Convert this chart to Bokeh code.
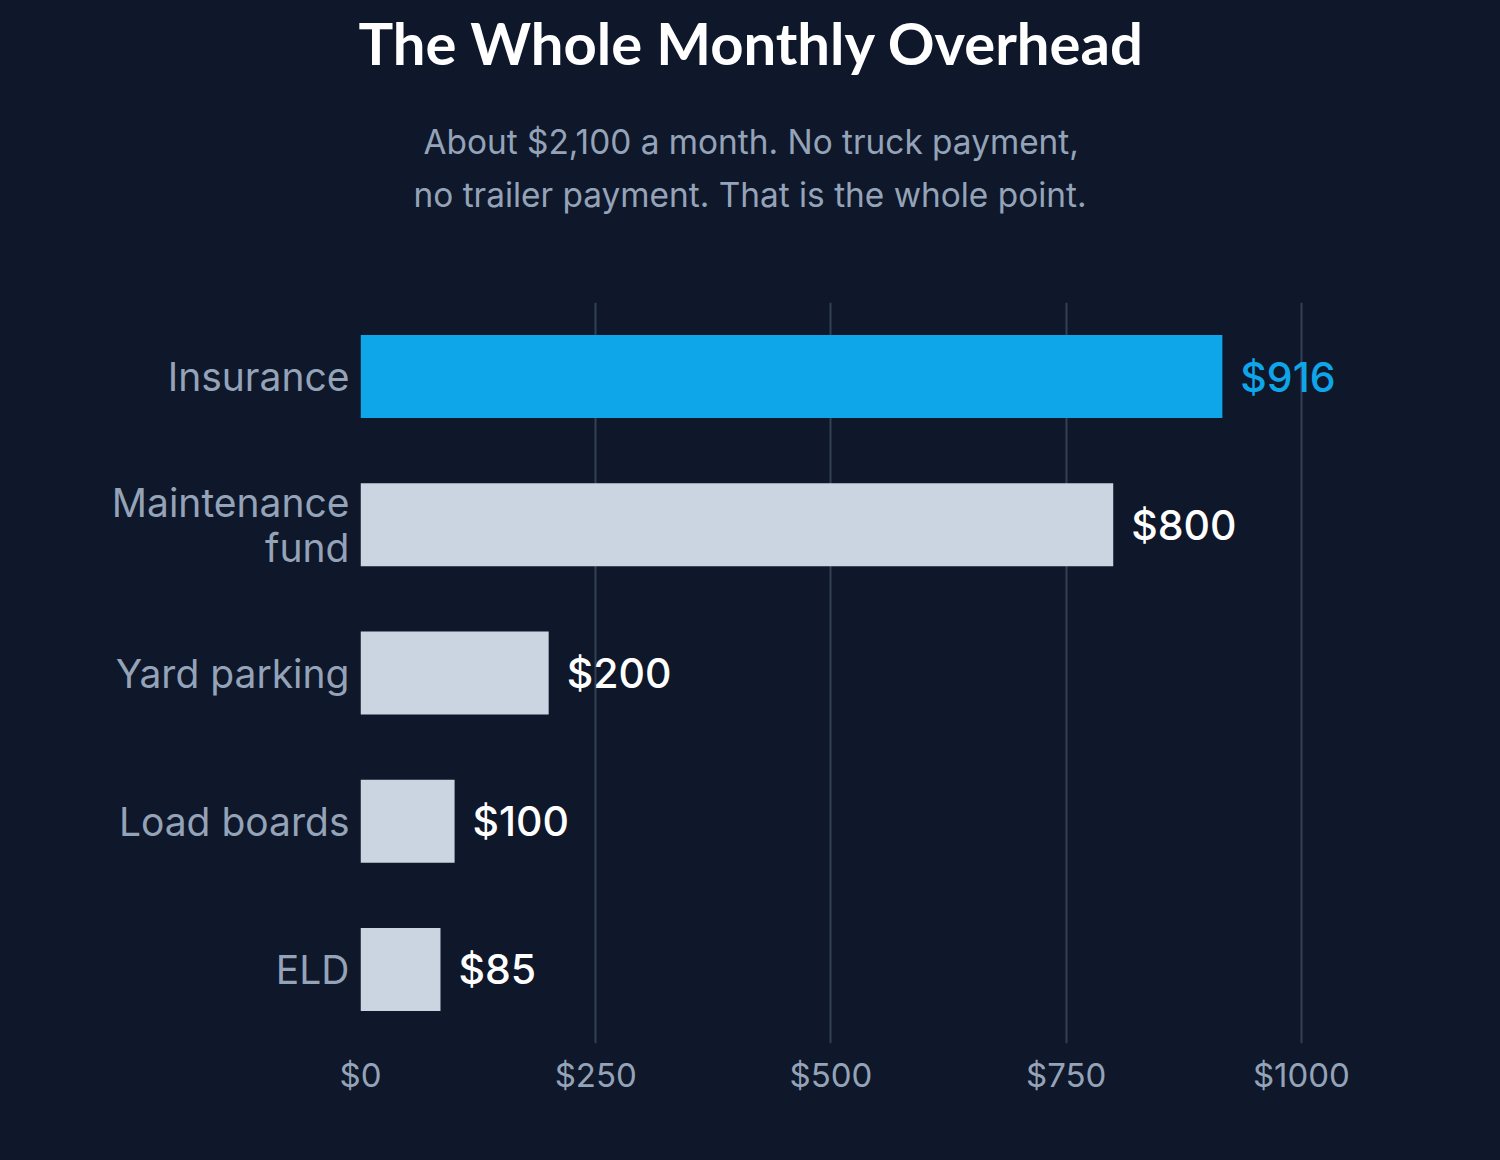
from bokeh.plotting import figure
from bokeh.models import ColumnDataSource, FactorRange, Range1d, FixedTicker, Title
from bokeh.core.properties import value
from bokeh.embed import file_html
from bokeh.resources import INLINE

# Monthly overhead line items (dollars per month)
categories = ["Insurance", "Maintenance\nfund", "Yard parking", "Load boards", "ELD"]
amounts = [916, 800, 200, 100, 85]
highlight = [True, False, False, False, False]
tick_values = [0, 250, 500, 750, 1000]
tick_labels = ["$0", "$250", "$500", "$750", "$1000"]

title_text = "The Whole Monthly Overhead"
subtitle_lines = [
    "About $2,100 a month. No truck payment,",
    "no trailer payment. That is the whole point.",
]

BG = "#0f172a"
GRID = "#334155"
ACCENT = "#0ea5e9"
BAR = "#cbd5e1"
MUTED = "#94a3b8"
WHITE = "#ffffff"

bar_colors = [ACCENT if h else BAR for h in highlight]
label_colors = [ACCENT if h else WHITE for h in highlight]
value_text = ["$" + str(a) for a in amounts]

source = ColumnDataSource(dict(
    cat=categories, amt=amounts, color=bar_colors,
    lcolor=label_colors, ltext=value_text,
))

p = figure(
    width=1500, height=1160,
    y_range=FactorRange(*reversed(categories), range_padding=0),
    x_range=Range1d(0, 1100),
    output_backend="svg", toolbar_location=None,
    min_border_left=360, min_border_right=105,
    min_border_top=302, min_border_bottom=117,
)
p.styles = {"background-color": BG}
p.background_fill_color = None
p.border_fill_color = BG
p.outline_line_color = None

p.hbar(y="cat", right="amt", left=0, height=0.56, color="color",
       line_color=None, source=source)

p.text(x="amt", y="cat", text="ltext", text_color="lcolor", source=source,
       x_offset=18, text_baseline="middle", text_align="left",
       text_font=value("Inter Medium, Inter"), text_font_size="41px")

# Axes
p.xaxis.ticker = FixedTicker(ticks=tick_values)
p.xaxis.major_label_overrides = {v: l for v, l in zip(tick_values, tick_labels)}
for ax in (p.xaxis, p.yaxis):
    ax.axis_line_color = None
    ax.major_tick_line_color = None
    ax.minor_tick_line_color = None
    ax.major_tick_out = 0
    ax.major_tick_in = 0
    ax.major_label_text_color = MUTED
    ax.major_label_text_font = "Inter"
p.xaxis.major_label_text_font_size = "33px"
p.xaxis.major_label_standoff = 11
p.yaxis.major_label_text_font_size = "39px"
p.yaxis.major_label_standoff = 11
p.yaxis.major_label_text_line_height = 0.95

p.xgrid.grid_line_color = GRID
p.xgrid.grid_line_width = 2
p.ygrid.grid_line_color = None

# Heading block, stacked outward from the frame:
# gap, subtitle line 2, subtitle line 1, gap, title
p.add_layout(Title(text=" ", text_font_size="2px", standoff=81), "above")
p.add_layout(Title(text=subtitle_lines[1], align="left", offset=53,
                   text_font="Inter", text_font_size="33.4px", text_font_style="normal",
                   text_color=MUTED, standoff=6), "above")
p.add_layout(Title(text=subtitle_lines[0], align="left", offset=63,
                   text_font="Inter", text_font_size="33.4px", text_font_style="normal",
                   text_color=MUTED, standoff=16), "above")
p.add_layout(Title(text=" ", text_font_size="2px", standoff=26), "above")
p.add_layout(Title(text=title_text, align="left", offset=-2,
                   text_font="Lato", text_font_size="58px", text_font_style="bold",
                   text_color=WHITE, standoff=10), "above")

open("out.html", "w").write(file_html(p, INLINE))
